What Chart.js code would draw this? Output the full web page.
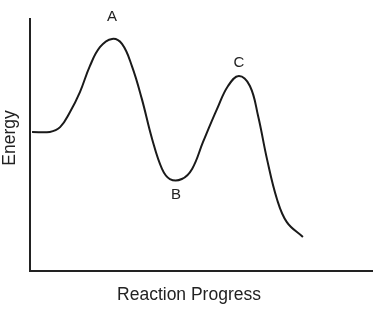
<!DOCTYPE html>
<html>
<head>
<meta charset="utf-8">
<script src="https://cdn.jsdelivr.net/npm/chart.js@4"></script>
<style>
  html, body { margin: 0; padding: 0; background: #fff; }
  #wrap { width: 376px; height: 313px; }
</style>
</head>
<body>
<div id="wrap"><canvas id="energyChart"></canvas></div>
<script>
// reaction progress (x) and energy (y)
var progress = [0.6, 5.8, 8.8, 11.7, 14.6, 17.5, 20.5, 24, 26.9, 29.8, 32.7, 35.7, 38.6, 40.9, 44.4, 47.4, 50.6, 54.7, 57.9, 61.1, 64.3, 66.7, 69.3, 72.2, 75.1, 79.8];
var energy   = [55.2, 55.2, 57.1, 63.1, 71, 81.3, 88.9, 92.1, 90.1, 81.3, 68.3, 52.4, 40.5, 36.5, 36.5, 40.5, 51.2, 64.3, 73.4, 77.4, 73.4, 61.5, 44.4, 28.6, 19.4, 13.5];

// labelled points on the curve (index into the arrays above)
var pointNames = ['A', 'B', 'C'];
var pointIndex = [7, 13, 19];

var xTitle = 'Reaction Progress';
var yTitle = 'Energy';

var curve = progress.map(function (x, i) { return { x: x, y: energy[i] }; });
var font = '"Liberation Sans", Arial, sans-serif';
var labelShift = { A: [0, -22], B: [6, 16], C: [0, -13] };

var labelPlugin = {
    id: 'pointLabels',
    afterDatasetsDraw: function (chart) {
        var ctx = chart.ctx;
        var xs = chart.scales.x, ys = chart.scales.y;
        ctx.save();
        ctx.fillStyle = '#222';
        ctx.textAlign = 'center';
        ctx.textBaseline = 'middle';
        ctx.font = '15px ' + font;
        pointNames.forEach(function (name, k) {
            var i = pointIndex[k];
            var px = xs.getPixelForValue(progress[i]) + labelShift[name][0];
            var py = ys.getPixelForValue(energy[i]) + labelShift[name][1];
            ctx.fillText(name, px, py);
        });

        // axis titles (the original sits a bit left of centre)
        ctx.font = '17.5px ' + font;
        ctx.fillText(xTitle, 189, 295);
        ctx.translate(10, 138);
        ctx.rotate(-Math.PI / 2);
        ctx.fillText(yTitle, 0, 0);
        ctx.restore();
    }
};

var ctx = document.getElementById('energyChart').getContext('2d');

var energyChart = new Chart(ctx, {
    type: 'line',
    data: {
        datasets: [{
            data: curve,
            borderColor: '#1a1a1a',
            borderWidth: 2,
            pointRadius: 0,
            fill: false,
            tension: 0.4
        }]
    },
    options: {
        responsive: true,
        maintainAspectRatio: false,
        animation: false,
        layout: {
            padding: { top: 19, right: 4, bottom: 42, left: 30 }
        },
        plugins: {
            legend: { display: false },
            tooltip: { enabled: false }
        },
        scales: {
            x: {
                type: 'linear',
                min: 0,
                max: 100,
                grid: { display: false, drawTicks: false },
                border: { display: true, color: '#222', width: 2 },
                ticks: { display: false }
            },
            y: {
                min: 0,
                max: 100,
                grid: { display: false, drawTicks: false },
                border: { display: true, color: '#222', width: 2 },
                ticks: { display: false }
            }
        }
    },
    plugins: [labelPlugin]
});
</script>
</body>
</html>
